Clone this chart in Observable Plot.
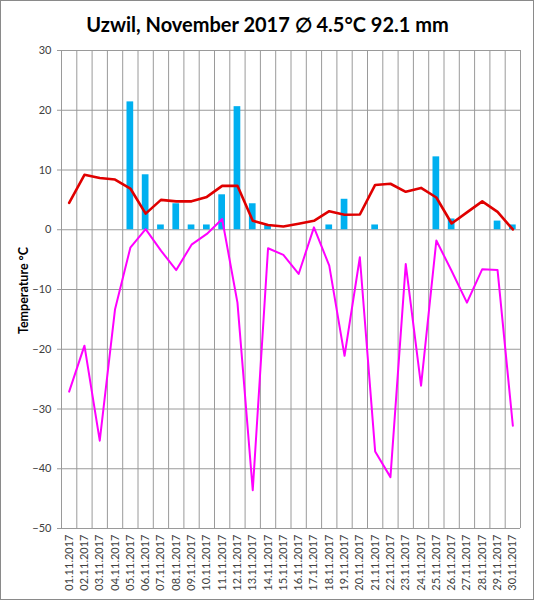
<!DOCTYPE html>
<html>
<head>
<meta charset="utf-8">
<script src="https://cdn.jsdelivr.net/npm/d3@7"></script>
<script src="https://cdn.jsdelivr.net/npm/@observablehq/plot@0.6"></script>
<style>
  html, body { margin: 0; padding: 0; background: white; }
  svg { display: block; outline: 1px solid #8a8a8a; outline-offset: -1px; }
</style>
</head>
<body>
<div id="chart"></div>
<script>
const dates = ["01.11.2017","02.11.2017","03.11.2017","04.11.2017","05.11.2017","06.11.2017","07.11.2017","08.11.2017","09.11.2017","10.11.2017",
               "11.11.2017","12.11.2017","13.11.2017","14.11.2017","15.11.2017","16.11.2017","17.11.2017","18.11.2017","19.11.2017","20.11.2017",
               "21.11.2017","22.11.2017","23.11.2017","24.11.2017","25.11.2017","26.11.2017","27.11.2017","28.11.2017","29.11.2017","30.11.2017"];
const meanTemp = [4.5, 9.2, 8.65, 8.4, 6.9, 2.7, 5.0, 4.75, 4.75, 5.5,
                  7.35, 7.35, 1.5, 0.8, 0.55, 1.0, 1.5, 3.1, 2.5, 2.55,
                  7.5, 7.7, 6.35, 7.0, 5.4, 1.05, 2.9, 4.75, 3.0, 0.05];
const minTemp = [-27.1, -19.4, -35.3, -13.3, -3.0, 0.1, -3.5, -6.75, -2.5, -0.7,
                 1.8, -12.2, -43.6, -3.1, -4.2, -7.4, 0.4, -6.0, -21.1, -4.6,
                 -37.1, -41.4, -5.75, -26.1, -1.8, -6.9, -12.2, -6.6, -6.75, -32.8];
const precip = [0, 0, 0, 0, 21.4, 9.2, 0.8, 4.35, 0.8, 0.8,
                5.85, 20.6, 4.35, 0.8, 0, 0, 0, 0.8, 5.1, 0,
                0.8, 0, 0, 0, 12.2, 1.8, 0, 0, 1.45, 0.8];
const yTicks = [-50, -40, -30, -20, -10, 0, 10, 20, 30];
const titleText = "Uzwil, November 2017 \u2205 4.5\u00B0C 92.1 mm";
const yLabel = "Temperature \u00B0C";

const data = dates.map((d, k) => ({i: k + 1, date: d, mean: meanTemp[k], min: minTemp[k], p: precip[k]}));
const bars = data.filter(d => d.p > 0);
const days = data.map(d => d.i);
const boundaries = [0.5, ...days.map(d => d + 0.5)];

const gridColor = "#9a9a9a";
const chart = Plot.plot({
  width: 534,
  height: 600,
  marginLeft: 61,
  marginRight: 14,
  marginTop: 50,
  marginBottom: 72,
  x: {domain: [0.5, 30.5], axis: null},
  y: {domain: [-50, 30], axis: null},
  style: {fontFamily: "Lato, 'Open Sans', sans-serif", background: "white", color: "#000"},
  marks: [
    Plot.gridY(yTicks, {stroke: gridColor, strokeOpacity: 1}),
    Plot.ruleX(boundaries, {stroke: gridColor, strokeOpacity: 1}),
    Plot.axisY(yTicks, {tickSize: 4, tickPadding: 6, stroke: gridColor, fill: "#404040", fontSize: 11, label: null}),
    Plot.axisX(days, {tickSize: 0, tickPadding: 6, tickRotate: -90, tickFormat: i => dates[i - 1], fill: "#404040", fontSize: 11, label: null}),
    Plot.rectY(bars, {x1: d => d.i - 0.5, x2: d => d.i + 0.5, y: "p", insetLeft: 4.3, insetRight: 4.3, fill: "#00b0f0"}),
    Plot.line(data, {x: "i", y: "mean", stroke: "#e00000", strokeWidth: 2.6}),
    Plot.line(data, {x: "i", y: "min", stroke: "#ff00ff", strokeWidth: 2}),
    Plot.text([titleText], {frameAnchor: "top", lineAnchor: "middle", textAnchor: "middle", dx: -23.5, dy: -25, fontSize: 20, fontWeight: "bold", fill: "#000"}),
    Plot.text([yLabel], {frameAnchor: "left", lineAnchor: "middle", textAnchor: "middle", rotate: -90, dx: -38, dy: 1, fontSize: 12.5, fontWeight: "bold", fill: "#000"})
  ]
});
document.getElementById("chart").appendChild(chart);
</script>
</body>
</html>
